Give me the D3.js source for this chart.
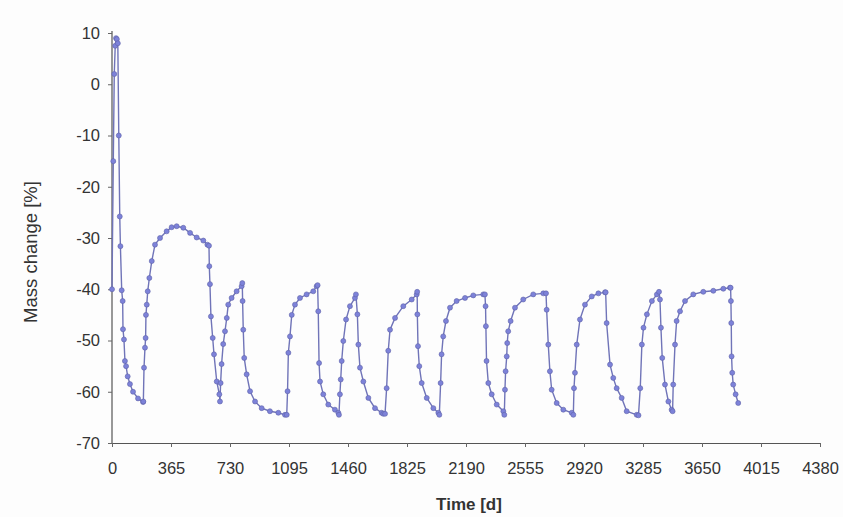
<!DOCTYPE html>
<html><head><meta charset="utf-8">
<script src="https://cdn.jsdelivr.net/npm/d3@7"></script>
<style>body{margin:0;background:#fdfdfd;}svg{display:block;}</style>
</head><body>
<svg id="chart" width="843" height="517"></svg>
<script>
// Time [d]
const time = [0,8,14,20,25,30,36,42,48,52,60,66,68,74,80,87,97,111,130,161,192,
194,198,204,208,210,215,221,231,246,266,297,338,369,400,441,483,524,565,590,
600,602,606,612,623,631,648,664,
668,672,678,688,699,710,719,740,771,802,
806,808,812,818,833,854,885,926,977,1029,1070,
1081,1086,1091,1101,1112,1132,1163,1204,1245,1266,
1272,1276,1281,1287,1307,1338,1379,1400,
1404,1410,1415,1421,1431,1448,1472,1503,
1509,1518,1524,1534,1555,1586,1627,1668,1678,
1689,1699,1709,1720,1751,1802,1854,1885,
1888,1889,1893,1901,1916,1947,1988,2019,
2025,2033,2039,2049,2066,2091,2132,2184,2235,2297,
2307,2311,2313,2317,2328,2349,2380,2421,
2427,2431,2435,2442,2445,2451,2466,2493,2544,2606,2668,
2685,2689,2699,2709,2720,2751,2792,2844,
2854,2858,2864,2875,2895,2926,2968,3009,3050,
3054,3060,3081,3101,3122,3153,3184,3246,
3257,3268,3278,3288,3309,3340,3371,
3384,3390,3396,3404,3421,3442,3462,
3468,3472,3483,3493,3514,3545,3596,3658,3720,3782,3823,
3827,3829,3831,3833,3837,3843,3858,3874];
// Mass change [%]
const mass = [-40,-15,2,7.5,9,8.8,8,-10,-25.8,-31.6,-40.2,-42.3,-47.8,-49.8,-54,-55,-57,-58.5,-60,-61.3,-62,
-61.9,-55.3,-51.4,-49.5,-45,-43,-40.4,-37.8,-34.5,-31.3,-30,-28.7,-27.9,-27.7,-28,-29,-29.9,-30.5,-31.3,-31.5,
-35.5,-39,-45.3,-49.5,-52.7,-58,-60.5,-61.9,
-58.3,-54.6,-50.7,-48.2,-45.6,-43,-41.7,-40.4,-39.4,-38.8,
-42.3,-47.9,-53.4,-56.6,-59.9,-61.9,-63.2,-63.8,-64.1,-64.5,-64.5,
-59.9,-52.4,-49.2,-45,-43,-41.7,-41,-40.4,-39.4,-39.2,
-44.3,-54.4,-58,-60.5,-62.5,-63.5,-64.1,-64.5,
-60.5,-57.6,-54,-50.1,-45.9,-43.3,-41.7,-41,
-44.9,-50.8,-55.3,-58,-61.2,-63.2,-64.1,-64.3,-64.3,
-59.3,-52,-47.9,-45.6,-43.3,-42,-41,-40.5,
-44.9,-51.1,-55,-58.3,-61.2,-63.2,-64.1,-64.5,
-58.3,-52.7,-49.2,-46.2,-43.6,-42.3,-41.7,-41.2,-41,-41,
-43.3,-47.2,-54,-58.3,-60.5,-62.5,-63.8,-64.5,
-59.6,-56,-53.1,-50.5,-48.2,-46.2,-43.6,-42,-41,-40.8,-40.8,
-44,-50.8,-56,-59.6,-62.2,-63.5,-64.1,-64.5,
-59.3,-56.3,-50.8,-45.9,-43,-41.4,-40.8,-40.6,-40.6,
-46.6,-54.7,-57.3,-59.3,-61.2,-63.8,-64.5,-64.6,
-59.3,-50.8,-47.5,-44.9,-42.3,-41,-40.5,
-42,-47.5,-53.4,-58.6,-61.9,-63.5,-63.8,
-58.6,-50.8,-46.2,-44.3,-42.3,-41,-40.5,-40.3,-39.9,-39.7,-39.7,
-42.3,-46.6,-53.1,-56.3,-58.6,-60.5,-62.2,-63.2];
const xTicks = [0,365,730,1095,1460,1825,2190,2555,2920,3285,3650,4015,4380];
const yTicks = [10,0,-10,-20,-30,-40,-50,-60,-70];
const xTitle = "Time [d]";
const yTitle = "Mass change [%]";

const data = time.map((t,i)=>({t, v: mass[i]}));
const svg = d3.select("#chart");
const m = {l:112, r:23, t:33, b:74};
const W = 843, H = 517;
const x = d3.scaleLinear().domain([0,4380]).range([m.l, W-m.r]);
const y = d3.scaleLinear().domain([-70,10]).range([H-m.b, m.t]);

const font = "'Liberation Sans', Arial, sans-serif";
const fmt = d => String(d);

const gx = svg.append("g").attr("transform",`translate(0,${y(-70)})`)
  .call(d3.axisBottom(x).tickValues(xTicks).tickFormat(fmt).tickSize(4).tickPadding(15).tickSizeOuter(0));
const gy = svg.append("g").attr("transform",`translate(${x(0)},0)`)
  .call(d3.axisLeft(y).tickValues(yTicks).tickFormat(fmt).tickSize(4).tickPadding(8).tickSizeOuter(0));
[gx,gy].forEach(g=>{
  g.selectAll("path").attr("stroke","#555").attr("stroke-width",1.2);
  g.selectAll("line").attr("stroke","#666");
  g.selectAll("text").attr("font-family",font).attr("font-size",16.5).attr("fill","#333");
});
gy.select(".domain").attr("d",`M0,${y(-70)}V${y(10)-2}`);

svg.append("path").datum(data)
  .attr("fill","none").attr("stroke","#7074b8").attr("stroke-width",1.4)
  .attr("d", d3.line().x(d=>x(d.t)).y(d=>y(d.v)));

svg.append("g").selectAll("circle").data(data).join("circle")
  .attr("cx",d=>x(d.t)).attr("cy",d=>y(d.v)).attr("r",2.5)
  .attr("fill","#7d82d9").attr("stroke","#5f63a8").attr("stroke-width",0.6);

svg.append("text").attr("x",469).attr("y",510)
  .attr("text-anchor","middle").attr("font-family",font).attr("font-size",17)
  .attr("font-weight","bold").attr("fill","#333").text(xTitle);
svg.append("text").attr("transform",`translate(37,${(y(10)+y(-70))/2 + 14}) rotate(-90)`)
  .attr("text-anchor","middle").attr("font-family",font).attr("font-size",18.5)
  .attr("fill","#333").text(yTitle);
</script>
</body></html>
